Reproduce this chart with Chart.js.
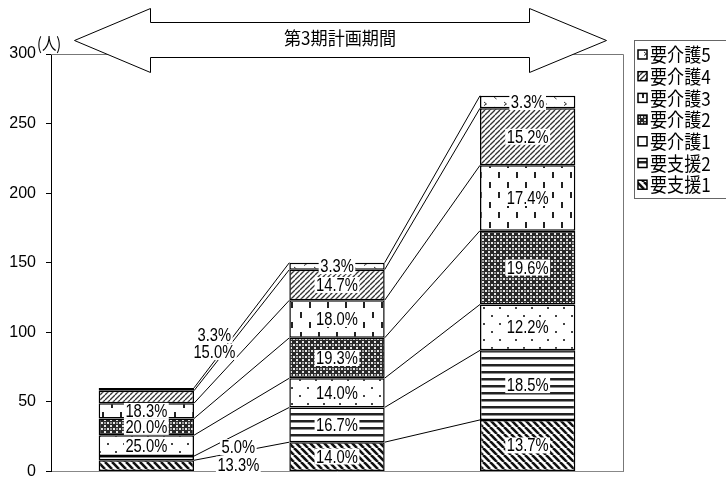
<!DOCTYPE html>
<html>
<head>
<meta charset="utf-8">
<script src="https://cdn.jsdelivr.net/npm/chart.js@4/dist/chart.umd.min.js"></script>
<style>
  html, body { margin: 0; padding: 0; background: #fff; }
  #wrap { width: 726px; height: 491px; }
</style>
</head>
<body>
<div id="wrap"><canvas id="c" width="726" height="491"></canvas></div>
<script>
// ---- data (persons) ----
const categories = ['1年目', '2年目', '3年目'];
const seriesNames = ['要支援1', '要支援2', '要介護1', '要介護2', '要介護3', '要介護4', '要介護5'];
const shien1 = [8, 21, 37];
const shien2 = [3, 25, 50];
const kaigo1 = [15, 21, 33];
const kaigo2 = [12, 29, 53];
const kaigo3 = [11, 27, 47];
const kaigo4 = [9, 22, 41];
const kaigo5 = [2, 5, 9];
const yTicks = [0, 50, 100, 150, 200, 250, 300];
const titleText = '第3期計画期間';
const unitText = '(人)';

const seriesValues = [shien1, shien2, kaigo1, kaigo2, kaigo3, kaigo4, kaigo5];

// ---- fill patterns ----
function tile(w, h, draw) {
  const c = document.createElement('canvas');
  c.width = w; c.height = h;
  const g = c.getContext('2d');
  g.fillStyle = '#fff';
  g.fillRect(0, 0, w, h);
  draw(g);
  return g.createPattern(c, 'repeat');
}
const patterns = [
  // 要支援1: dense back-slash stripes
  tile(7, 7, g => {
    g.strokeStyle = '#111'; g.lineWidth = 2.6;
    for (const k of [-7, 0, 7]) { g.beginPath(); g.moveTo(k, 0); g.lineTo(k + 7, 7); g.stroke(); }
  }),
  // 要支援2: horizontal lines
  tile(8, 7, g => { g.fillStyle = '#222'; g.fillRect(0, 0, 8, 2.5); }),
  // 要介護1: sparse dots
  tile(16, 16, g => { g.fillStyle = '#444'; g.fillRect(3, 3, 2, 2); g.fillRect(11, 11, 2, 2); }),
  // 要介護2: dark lattice
  tile(6, 6, g => {
    g.fillStyle = '#2a2a2a'; g.fillRect(0, 0, 6, 6);
    g.fillStyle = '#e8e8e8';
    g.fillRect(2, 0, 2, 1); g.fillRect(0, 2, 1, 2); g.fillRect(5, 2, 1, 2); g.fillRect(2, 5, 2, 1);
    g.fillStyle = '#9a9a9a';
    g.fillRect(2, 2, 2, 2);
  }),
  // 要介護3: vertical dashes
  tile(18, 20, g => { g.fillStyle = '#222'; g.fillRect(3, 2, 2, 6); g.fillRect(12, 12, 2, 6); }),
  // 要介護4: fine forward-slash hatch
  tile(5, 5, g => {
    g.strokeStyle = '#333'; g.lineWidth = 1.3;
    for (const k of [-5, 0, 5]) { g.beginPath(); g.moveTo(k, 5); g.lineTo(k + 5, 0); g.stroke(); }
  }),
  // 要介護5: sparse small marks
  tile(20, 10, g => {
    g.strokeStyle = '#333'; g.lineWidth = 1;
    g.beginPath(); g.moveTo(4, 2); g.lineTo(6.5, 4); g.lineTo(4, 5.5); g.stroke();
    g.beginPath(); g.moveTo(14, 7); g.lineTo(16.5, 9); g.stroke();
  })
];

// ---- helpers ----
function narrowText(ctx, text, x, y, font, sx, align) {
  ctx.save();
  ctx.font = font;
  ctx.translate(x, y);
  ctx.scale(sx, 1);
  ctx.textAlign = align || 'center';
  ctx.textBaseline = 'middle';
  ctx.fillStyle = '#000';
  ctx.fillText(text, 0, 0);
  ctx.restore();
}

const LABEL_FONT = '18px "Liberation Sans", Arial, sans-serif';
const LABEL_SX = 0.82;
// labels moved off thin segments of the first column
const labelShift = {
  '0-0': { dx: 92, dy: -1 },
  '1-0': { dx: 92, dy: -11 },
  '5-0': { dx: 68, dy: -45 },
  '6-0': { dx: 68, dy: -54 }
};

function pctText(d, i) {
  let total = 0;
  seriesValues.forEach(s => total += s[i]);
  return (seriesValues[d][i] / total * 100).toFixed(1) + '%';
}

const decorations = {
  id: 'decorations',
  beforeDatasetsDraw(chart) {
    const { ctx, chartArea: a } = chart;
    ctx.save();
    ctx.strokeStyle = '#777';
    ctx.lineWidth = 1;
    ctx.beginPath();
    ctx.moveTo(a.left, a.top + 0.5);
    ctx.lineTo(a.right + 0.5, a.top + 0.5);
    ctx.lineTo(a.right + 0.5, a.bottom);
    ctx.stroke();
    ctx.restore();
  },
  afterDatasetsDraw(chart) {
    const { ctx } = chart;
    // series lines joining the top of each segment between columns
    ctx.save();
    ctx.strokeStyle = '#000';
    ctx.lineWidth = 1;
    for (let d = 0; d < seriesValues.length; d++) {
      const els = chart.getDatasetMeta(d).data;
      for (let i = 0; i < els.length - 1; i++) {
        const a = els[i], b = els[i + 1];
        ctx.beginPath();
        ctx.moveTo(a.x + a.width / 2, a.y);
        ctx.lineTo(b.x - b.width / 2, b.y);
        ctx.stroke();
      }
    }
    ctx.restore();
    // percentage labels
    for (let d = 0; d < seriesValues.length; d++) {
      const els = chart.getDatasetMeta(d).data;
      els.forEach((el, i) => {
        const s = labelShift[d + '-' + i] || { dx: 0, dy: 0 };
        const cx = el.x + s.dx;
        const cy = (el.y + el.base) / 2 + s.dy;
        const text = pctText(d, i);
        ctx.save();
        ctx.font = LABEL_FONT;
        const w = ctx.measureText(text).width * LABEL_SX;
        ctx.fillStyle = '#fff';
        ctx.fillRect(cx - w / 2 - 1.5, cy - 8, w + 3, 16);
        ctx.restore();
        narrowText(ctx, text, cx, cy + 1, LABEL_FONT, LABEL_SX, 'center');
      });
    }
  },
  afterDraw(chart) {
    const { ctx } = chart;
    // double-headed period arrow
    ctx.save();
    ctx.beginPath();
    const pts = [[74, 40], [150, 8], [150, 22], [529, 22], [529, 8], [606, 40],
                 [529, 72], [529, 57], [150, 57], [150, 72]];
    pts.forEach((p, k) => k ? ctx.lineTo(p[0] + 0.5, p[1] + 0.5) : ctx.moveTo(p[0] + 0.5, p[1] + 0.5));
    ctx.closePath();
    ctx.fillStyle = '#fff';
    ctx.fill();
    ctx.strokeStyle = '#000';
    ctx.lineWidth = 1;
    ctx.stroke();
    ctx.restore();
    narrowText(ctx, titleText, 340, 38, '18px "Noto Sans CJK JP", sans-serif', 0.95, 'center');

    // unit
    narrowText(ctx, unitText, 37, 44, '17px "Noto Sans CJK JP", sans-serif', 0.85, 'left');

    // legend
    ctx.save();
    ctx.strokeStyle = '#666';
    ctx.lineWidth = 1;
    ctx.strokeRect(634.5, 40.5, 100, 158);
    ctx.restore();
    for (let r = 0; r < seriesNames.length; r++) {
      const d = seriesNames.length - 1 - r;
      const y = 55 + r * 21.7;
      ctx.save();
      ctx.fillStyle = patterns[d];
      ctx.fillRect(638, y - 5, 9, 9);
      ctx.strokeStyle = '#000';
      ctx.lineWidth = 1.5;
      ctx.strokeRect(638, y - 5, 9, 9);
      ctx.restore();
      narrowText(ctx, seriesNames[d], 650, y, '19px "Noto Sans CJK JP", sans-serif', 0.9, 'left');
    }
  }
};

const datasets = seriesValues.map((vals, d) => ({
  label: seriesNames[d],
  data: vals,
  backgroundColor: patterns[d],
  borderColor: '#000',
  borderWidth: 1.5,
  borderSkipped: false,
  categoryPercentage: 0.5,
  barPercentage: 1
}));

new Chart(document.getElementById('c'), {
  type: 'bar',
  data: { labels: categories, datasets },
  options: {
    responsive: false,
    animation: false,
    devicePixelRatio: 1,
    layout: { padding: { top: 54, right: 103, bottom: 4, left: 0 } },
    plugins: { legend: { display: false }, tooltip: { enabled: false } },
    scales: {
      x: {
        stacked: true,
        ticks: { display: false },
        grid: { display: false },
        border: { color: '#888', width: 1 },
        afterFit(s) { s.height = 0; }
      },
      y: {
        stacked: true,
        min: 0,
        max: 300,
        afterBuildTicks(s) { s.ticks = yTicks.map(v => ({ value: v })); },
        ticks: {
          color: '#000',
          padding: 10,
          font: { family: '"Liberation Sans", Arial, sans-serif', size: 16 }
        },
        grid: { drawOnChartArea: false, drawTicks: true, tickLength: 5, tickColor: '#000' },
        border: { color: '#000', width: 1 },
        afterFit(s) { s.width = 51; }
      }
    }
  },
  plugins: [decorations]
});
</script>
</body>
</html>
